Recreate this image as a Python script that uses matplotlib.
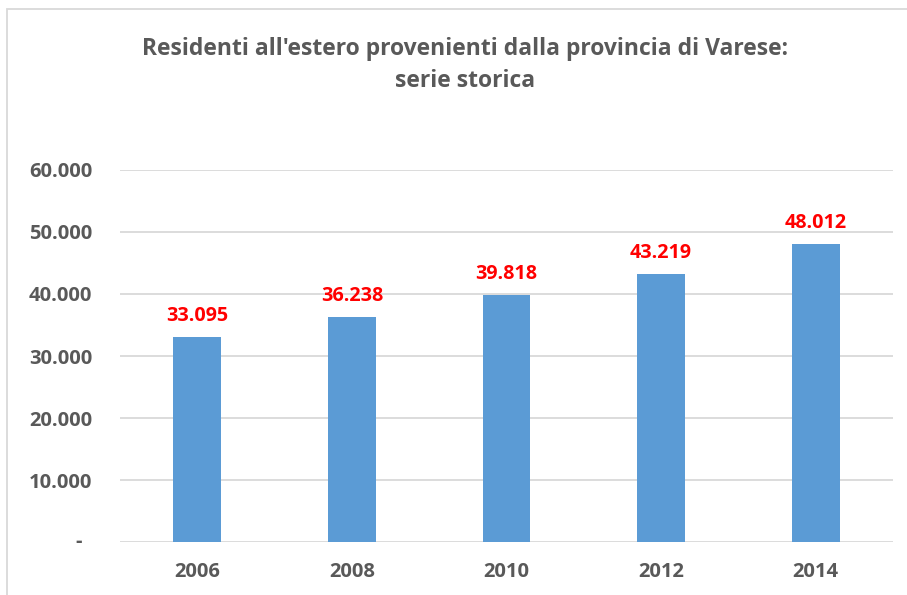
import matplotlib
matplotlib.use("Agg")
import matplotlib.pyplot as plt
from matplotlib.patches import Rectangle
import matplotlib.transforms as mtransforms

years = ["2006", "2008", "2010", "2012", "2014"]
residents = [33095, 36238, 39818, 43219, 48012]
value_labels = ["33.095", "36.238", "39.818", "43.219", "48.012"]
yticks = [0, 10000, 20000, 30000, 40000, 50000, 60000]
ytick_labels = ["-", "10.000", "20.000", "30.000", "40.000", "50.000", "60.000"]
title = "Residenti all'estero provenienti dalla provincia di Varese:\nserie storica"

plt.rcParams['font.family'] = ['Open Sans', 'DejaVu Sans']

W, H = 907, 595
fig = plt.figure(figsize=(W/100, H/100), dpi=100)
ax = fig.add_axes([120/W, 1-542/H, 773/W, (542-170)/H])

x = list(range(len(years)))
ax.bar(x, residents, width=0.31, color="#5B9BD5", zorder=3)
ax.set_xlim(-0.5, 4.5)
ax.set_ylim(0, 60000)
ax.set_yticks(yticks)
ax.set_yticklabels([""] + ytick_labels[1:])
ax.set_xticks(x)
ax.set_xticklabels(years)
for s in ax.spines.values():
    s.set_visible(False)
ax.grid(axis="y", color="#D9D9D9", linewidth=1.3, zorder=0)
ax.tick_params(axis="both", length=0, labelsize=14.5, labelcolor="#595959")
ax.tick_params(axis="y", pad=20)
ax.tick_params(axis="x", pad=14.5)
for lab in ax.get_xticklabels() + ax.get_yticklabels():
    lab.set_fontweight("bold")

# zero label "-" sits further left (accounting format)
trans = mtransforms.blended_transform_factory(ax.transAxes, ax.transData)
ax.annotate(ytick_labels[0], (0, yticks[0]), xycoords=trans, xytext=(-38/1.389, 0),
            textcoords="offset points", ha="right", va="center", fontsize=14.5,
            fontweight="bold", color="#595959")

for xi, v, t in zip(x, residents, value_labels):
    ax.annotate(t, (xi, v), xytext=(0, 8), textcoords="offset points",
                ha="center", va="bottom", color="#FF0000", fontsize=14.2, fontweight="bold")

fig.text(465/W, 1-65/H, title, ha="center", va="center", fontsize=16.5,
         fontweight="bold", color="#595959", linespacing=1.45)

fig.patches.append(Rectangle((7/W, -0.1), 1.2, 1-9/H+0.1, transform=fig.transFigure,
                             fill=False, edgecolor="#D9D9D9", linewidth=1.3))

fig.savefig("out.png", dpi=100)
